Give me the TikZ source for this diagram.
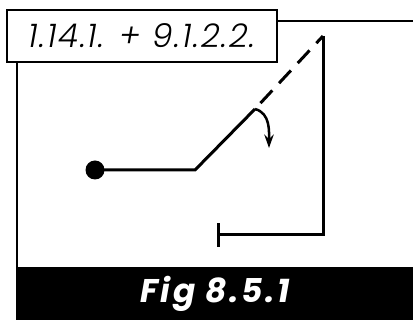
\documentclass[tikz,border=0pt]{standalone}
\usepackage{fontspec}
\newfontfamily\tagfont{Poppins Light Italic}[LetterSpace=5]
\newfontfamily\capfont{Poppins Bold Italic}[LetterSpace=8]
\usetikzlibrary{arrows.meta,positioning,calc}

\begin{document}
\begin{tikzpicture}[x=0.3mm, y=-0.3mm, wire/.style={line width=0.9mm}, frame/.style={line width=0.65mm}, tag/.style={draw, fill=white, line width=0.75mm, inner sep=0pt, minimum width=81mm, minimum height=15.6mm, font=\tagfont\fontsize{28}{32}\selectfont}, bar/.style={fill=black, text=white, inner sep=0pt, minimum width=118.8mm, minimum height=15.9mm, font=\capfont\fontsize{28}{32}\selectfont}]
\useasboundingbox (0,0) rectangle (413,320);
\node[bar] (caption) at (215,293.5) {Fig 8.5.1};
\node[tag] (tag) at (142,36) {1.14.1. + 9.1.2.2.};
\coordinate (framel) at (17,320); \coordinate (framer) at (413,21);
\draw[frame] (tag.south -| framel)--(framel); \draw[frame] (tag.east |- framer)--(framer);
\node[circle, fill, inner sep=0pt, minimum size=5.7mm] (pivot) at (95,170) {};
\coordinate (knee) at (195,170); \coordinate (blade) at (255,109); \coordinate (contact) at (323,36); \coordinate (corner) at (323,235); \coordinate (stop) at (217,235); \coordinate (swing) at (269,148);
\draw[wire] (pivot.center)--(knee)--(blade);
\draw[wire, dash pattern=on 5.2mm off 3mm, dash phase=5.8mm] (blade)--(contact);
\draw[wire, -{Bar[width=7.2mm]}] (contact)--(corner)--(stop);
\draw[line width=0.75mm, -{Stealth[length=4mm, width=2.8mm]}] (blade) to[out=-15, in=90] (swing);
\end{tikzpicture}
\end{document}
